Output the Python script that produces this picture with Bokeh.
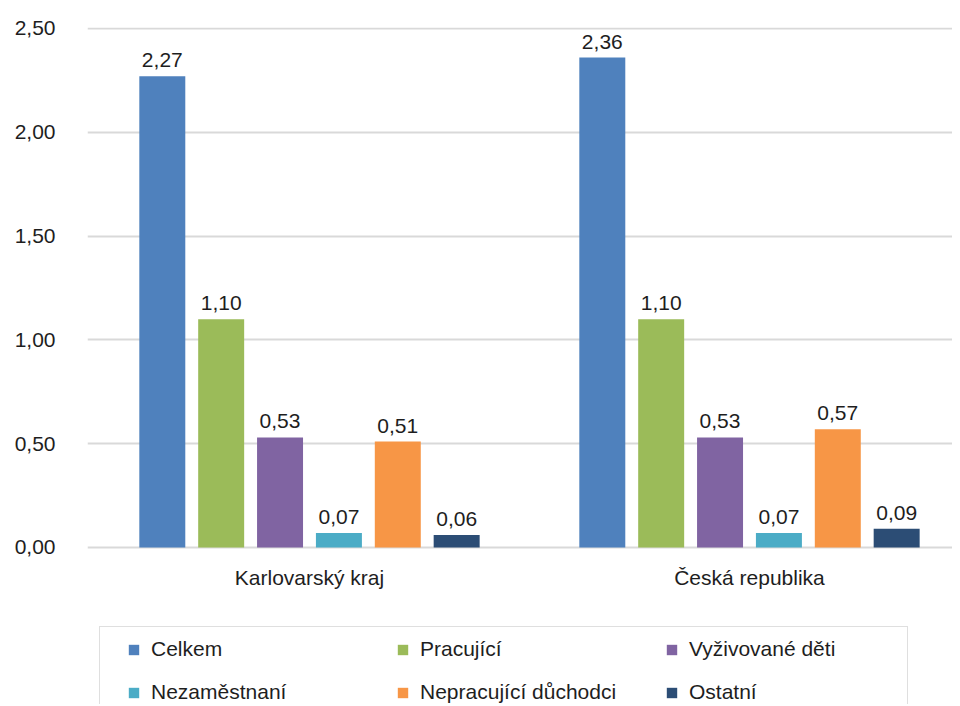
from bokeh.plotting import figure
from bokeh.models import (ColumnDataSource, Range1d, FixedTicker, CustomJSTickFormatter,
                          Legend, LegendItem)
from bokeh.core.properties import value
from bokeh.embed import file_html
from bokeh.resources import INLINE

# ---- data ----
categories = ["Karlovarský kraj", "Česká republika"]
series = ["Celkem", "Pracující", "Vyživované děti", "Nezaměstnaní",
          "Nepracující důchodci", "Ostatní"]
celkem = [2.27, 2.36]
pracujici = [1.10, 1.10]
vyzivovane_deti = [0.53, 0.53]
nezamestnani = [0.07, 0.07]
nepracujici_duchodci = [0.51, 0.57]
ostatni = [0.06, 0.09]
y_ticks = [0.0, 0.5, 1.0, 1.5, 2.0, 2.5]
colors = ["#4F81BD", "#9BBB59", "#8064A2", "#4BACC6", "#F79646", "#2C4D75"]

values = [celkem, pracujici, vyzivovane_deti, nezamestnani, nepracujici_duchodci, ostatni]

FONT = "Liberation Sans"
TXT = "#1e1e1e"
GRID = "#D9D9D9"

# frame extends below zero so that category labels and the legend live inside it
p = figure(width=952, height=704,
           x_range=Range1d(-0.0045, 1.9614), y_range=Range1d(-0.7563, 2.5048),
           output_backend="svg", toolbar_location=None,
           min_border_left=87, min_border_right=0, min_border_top=27,
           min_border_bottom=0)
p.outline_line_color = None
p.background_fill_color = "white"
p.xaxis.visible = False

step = 0.1338
bar_w = 0.1045
renderers = []
for k, (name, vals, col) in enumerate(zip(series, values, colors)):
    xs = [i + 0.5 + (k - 2.5) * step for i in range(len(categories))]
    src = ColumnDataSource(dict(x=xs, top=vals,
                                lab=[f"{v:.2f}".replace(".", ",") for v in vals]))
    r = p.vbar(x="x", top="top", width=bar_w, source=src,
               fill_color=col, line_color=None)
    p.text(x="x", y="top", text="lab", source=src, text_align="center",
           text_baseline="alphabetic", y_offset=-16,
           text_font=value(FONT), text_font_size="21px", text_color=TXT)
    renderers.append(r)

# category labels below the baseline
cat_src = ColumnDataSource(dict(x=[i + 0.5 for i in range(len(categories))],
                                y=[0.0] * len(categories), t=categories))
p.text(x="x", y="y", text="t", source=cat_src, text_align="center",
       text_baseline="alphabetic", y_offset=30,
       text_font=value(FONT), text_font_size="21px", text_color=TXT)

# y axis
ya = p.yaxis[0]
ya.ticker = FixedTicker(ticks=y_ticks)
ya.formatter = CustomJSTickFormatter(code="return tick.toFixed(2).replace('.', ',');")
ya.axis_line_color = None
ya.major_tick_line_color = None
ya.minor_tick_line_color = None
ya.major_tick_out = 0
ya.major_tick_in = 0
ya.major_label_standoff = 32
ya.major_label_text_font = FONT
ya.major_label_text_font_size = "21px"
ya.major_label_text_color = TXT

p.xgrid.grid_line_color = None
p.ygrid.grid_line_color = GRID
p.ygrid.grid_line_width = 2

# legend frame (box only)
dummy = p.scatter(x=[], y=[], marker="square", fill_alpha=0, line_alpha=0)
box = Legend(items=[LegendItem(label=" ", renderers=[dummy])],
             location=(12, -4), padding=0, margin=0,
             glyph_width=1, glyph_height=1, label_standoff=0,
             label_width=806, label_height=80,
             border_line_color="#BFBFBF", border_line_width=1.5,
             background_fill_color="white", background_fill_alpha=1)
p.add_layout(box, "center")

# legend items
items = [LegendItem(label=s, renderers=[r]) for s, r in zip(series, renderers)]
leg = Legend(items=items, location=(40, 0), orientation="horizontal", ncols=3,
             glyph_width=13, glyph_height=13, label_standoff=11,
             label_width=226, label_height=24, spacing=19, padding=0, margin=0,
             border_line_color=None, background_fill_alpha=0,
             label_text_font=FONT, label_text_font_size="21px",
             label_text_color=TXT)
p.add_layout(leg, "center")

open("out.html", "w").write(file_html(p, INLINE))
